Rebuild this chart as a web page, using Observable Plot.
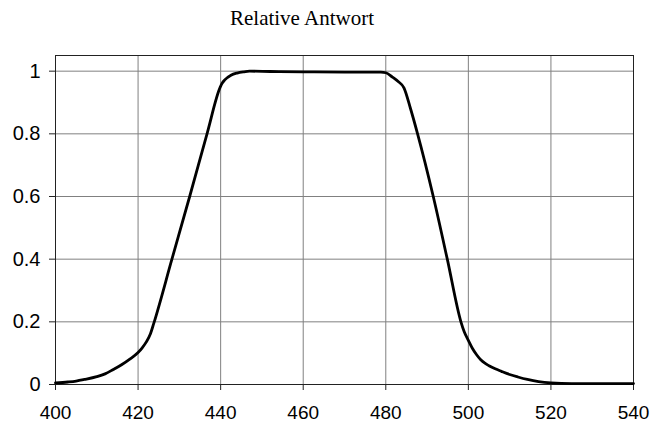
<!DOCTYPE html>
<html>
<head>
<meta charset="utf-8">
<script src="https://cdn.jsdelivr.net/npm/d3@7"></script>
<script src="https://cdn.jsdelivr.net/npm/@observablehq/plot@0.6"></script>
<style>
  html, body { margin: 0; padding: 0; background: #fff; }
  #title { height: 40px; box-sizing: border-box; padding-top: 8px; padding-right: 48px;
           text-align: center; font-family: "Liberation Serif", "Times New Roman", serif;
           font-size: 21px; line-height: 21px; color: #000; }
</style>
</head>
<body>
<div id="title">Relative Antwort</div>
<div id="chart"></div>
<script>
const wavelength = [400, 403, 405, 407, 410, 412, 414, 416, 418, 420, 421, 422, 423, 423.8, 428.2, 432.5, 436.7, 439.9, 440.4, 441, 442.5, 444, 445.7, 447, 452, 460, 470, 478.8, 480, 481.6, 483, 484.4, 486, 487.7, 491.5, 494.9, 498.2, 499, 500, 501, 502, 503, 504, 505, 506.5, 508, 510, 512, 514.3, 517, 520, 525, 530, 540];
const response   = [0.005, 0.008, 0.011, 0.016, 0.025, 0.034, 0.048, 0.063, 0.081, 0.102, 0.117, 0.136, 0.162, 0.195, 0.4, 0.6, 0.8, 0.949, 0.962, 0.972, 0.987, 0.994, 0.998, 1.0, 0.999, 0.998, 0.997, 0.997, 0.995, 0.981, 0.967, 0.947, 0.88, 0.8, 0.6, 0.4, 0.2, 0.168, 0.141, 0.115, 0.095, 0.079, 0.068, 0.060, 0.050, 0.042, 0.032, 0.024, 0.016, 0.009, 0.005, 0.003, 0.003, 0.003];
const xTicks = [400, 420, 440, 460, 480, 500, 520, 540];
const yTicks = [0, 0.2, 0.4, 0.6, 0.8, 1];

const data = wavelength.map((w, i) => ({w, r: response[i]}));

const chart = Plot.plot({
  width: 652,
  height: 384,
  marginTop: 15,
  marginBottom: 40,
  marginLeft: 55,
  marginRight: 19,
  style: {fontFamily: "Liberation Sans, Arial, sans-serif", fontSize: "20px", color: "#000", background: "#fff"},
  x: {domain: [400, 540], ticks: xTicks, label: null},
  y: {domain: [0, 1.05], ticks: yTicks, label: null, tickFormat: d3.format("~g")},
  marks: [
    Plot.gridX(xTicks, {stroke: "#808080", strokeOpacity: 1, strokeWidth: 1}),
    Plot.gridY(yTicks, {stroke: "#808080", strokeOpacity: 1, strokeWidth: 1}),
    Plot.frame({stroke: "#222", strokeWidth: 1}),
    Plot.axisX(xTicks, {tickSize: 6, tickPadding: 15, stroke: "#222", fill: "#000", fontSize: 19}),
    Plot.axisY(yTicks, {tickSize: 6, tickPadding: 9, stroke: "#222", fill: "#000", tickFormat: d3.format("~g")}),
    Plot.line(data, {x: "w", y: "r", stroke: "#000", strokeWidth: 2.8, curve: "monotone-x", strokeLinejoin: "round"})
  ]
});
document.getElementById("chart").appendChild(chart);
</script>
</body>
</html>
